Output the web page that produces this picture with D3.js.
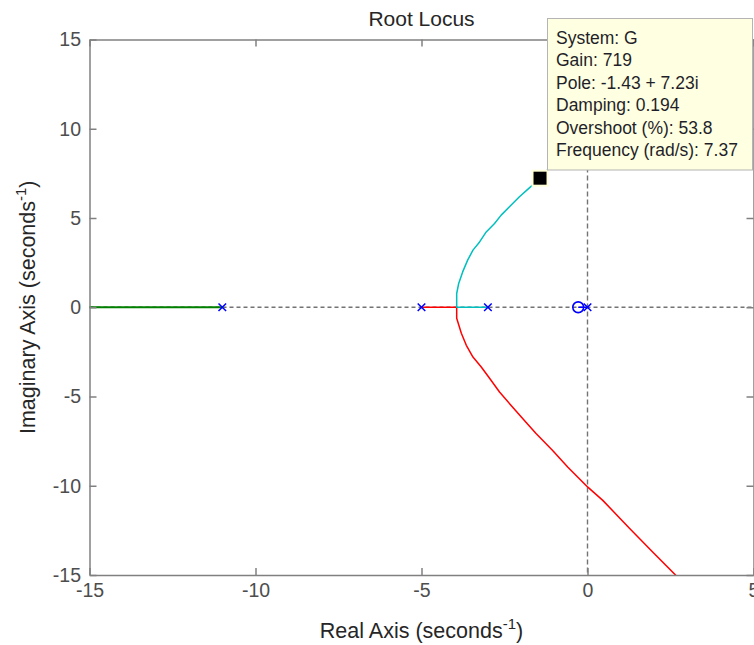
<!DOCTYPE html>
<html>
<head>
<meta charset="utf-8">
<script src="https://cdn.jsdelivr.net/npm/d3@7"></script>
<style>
  html, body { margin: 0; padding: 0; background: #fff; }
  svg { display: block; font-family: "Liberation Sans", Arial, sans-serif; }
</style>
</head>
<body>
<svg id="chart" width="754" height="645"></svg>
<script>
// Axis ticks
const xTicks = [-15, -10, -5, 0, 5];
const yTicks = [-15, -10, -5, 0, 5, 10, 15];

// Open-loop poles and zeros of G
const poles = [0, -3, -5, -11];
const zeros = [-0.28];

// Locus branches, [real, imag]
const blueBranch = [[0, 0], [-0.28, 0]];
const greenBranch = [[-11, 0], [-20, 0]];
const redBranch = [
  [-5, 0], [-3.94, 0], [-3.94, -0.62], [-3.80, -1.46], [-3.65, -2.13],
  [-3.45, -2.79], [-3.20, -3.35], [-2.95, -3.98], [-2.65, -4.75],
  [-2.30, -5.50], [-1.90, -6.34], [-1.55, -7.07], [-1.05, -8.02],
  [-0.59, -8.96], [0.01, -10.08], [0.46, -10.82], [1.27, -12.39],
  [1.97, -13.72], [2.72, -15.13]
];
const cyanBranch = [
  [-3, 0], [-3.94, 0], [-3.94, 0.77], [-3.88, 1.33], [-3.76, 1.98],
  [-3.61, 2.64], [-3.45, 3.20], [-3.25, 3.66], [-3.05, 4.22],
  [-2.80, 4.69], [-2.60, 5.16], [-2.35, 5.63], [-2.05, 6.19],
  [-1.75, 6.69], [-1.43, 7.23], [-1.05, 8.02], [-0.59, 8.96],
  [0.01, 10.08], [0.46, 10.82], [1.27, 12.39], [1.97, 13.72], [2.72, 15.13]
];

// Data tip
const tipPole = [-1.43, 7.23];
const tipLines = [
  "System: G",
  "Gain: 719",
  "Pole: -1.43 + 7.23i",
  "Damping: 0.194",
  "Overshoot (%): 53.8",
  "Frequency (rad/s): 7.37"
];

const svg = d3.select("#chart");
const plotLeft = 89.5, plotRight = 753.5, plotTop = 39.5, plotBottom = 575;

const x = d3.scaleLinear().domain([-15, 5]).range([plotLeft, plotRight]);
const y = d3.scaleLinear().domain([-15, 15]).range([plotBottom, plotTop]);

svg.append("defs").append("clipPath").attr("id", "plotClip")
  .append("rect").attr("x", plotLeft).attr("y", plotTop)
  .attr("width", plotRight - plotLeft).attr("height", plotBottom - plotTop);

const plot = svg.append("g").attr("clip-path", "url(#plotClip)");

// Dashed real and imaginary axes
plot.append("line")
  .attr("x1", plotLeft).attr("x2", plotRight).attr("y1", y(0)).attr("y2", y(0))
  .attr("stroke", "#737373").attr("stroke-width", 1.4).attr("stroke-dasharray", "4,3");
plot.append("line")
  .attr("x1", x(0)).attr("x2", x(0)).attr("y1", plotTop).attr("y2", plotBottom)
  .attr("stroke", "#737373").attr("stroke-width", 1.4).attr("stroke-dasharray", "5,3");

const line = d3.line().x(d => x(d[0])).y(d => y(d[1]));

const branches = [
  { data: blueBranch, color: "#0000ff", w: 1.5 },
  { data: greenBranch, color: "#008000", w: 2 },
  { data: redBranch, color: "#ff0000", w: 1.5 },
  { data: cyanBranch, color: "#00bfbf", w: 1.5 }
];
plot.selectAll("path.branch").data(branches).join("path")
  .attr("class", "branch")
  .attr("d", d => line(d.data))
  .attr("fill", "none")
  .attr("stroke", d => d.color)
  .attr("stroke-width", d => d.w)
  .attr("stroke-linejoin", "round");

// Pole markers (x)
const s = 3.8;
plot.selectAll("path.pole").data(poles).join("path")
  .attr("class", "pole")
  .attr("d", p => `M${x(p) - s},${y(0) - s}L${x(p) + s},${y(0) + s}M${x(p) - s},${y(0) + s}L${x(p) + s},${y(0) - s}`)
  .attr("stroke", "#0000ff").attr("stroke-width", 1.5).attr("fill", "none");

// Zero markers (o)
plot.selectAll("circle.zero").data(zeros).join("circle")
  .attr("class", "zero")
  .attr("cx", z => x(z)).attr("cy", y(0)).attr("r", 5.4)
  .attr("fill", "none").attr("stroke", "#0000ff").attr("stroke-width", 1.6);

// Axes frame with inward ticks
const axisColor = "#808080";
const tickColor = "#4d4d4d";
function styleAxis(g, showLabels) {
  g.select(".domain").attr("stroke", axisColor).attr("stroke-width", 1.5);
  g.selectAll(".tick line").attr("stroke", axisColor).attr("stroke-width", 1.5);
  g.selectAll(".tick text")
    .attr("fill", tickColor)
    .attr("font-size", "19.5px")
    .attr("font-family", "'Liberation Sans', Arial, sans-serif")
    .style("display", showLabels ? null : "none");
}
svg.append("g").attr("transform", `translate(0,${plotBottom})`)
  .call(d3.axisBottom(x).tickValues(xTicks).tickSizeInner(-7).tickSizeOuter(0).tickPadding(8).tickFormat(d3.format("d")))
  .call(g => styleAxis(g, true));
svg.append("g").attr("transform", `translate(0,${plotTop})`)
  .call(d3.axisTop(x).tickValues(xTicks).tickSizeInner(-7).tickSizeOuter(0))
  .call(g => styleAxis(g, false));
svg.append("g").attr("transform", `translate(${plotLeft},0)`)
  .call(d3.axisLeft(y).tickValues(yTicks).tickSizeInner(-7).tickSizeOuter(0).tickPadding(8.5).tickFormat(d3.format("d")))
  .call(g => styleAxis(g, true));
svg.append("g").attr("transform", `translate(${plotRight},0)`)
  .call(d3.axisRight(y).tickValues(yTicks).tickSizeInner(-7).tickSizeOuter(0))
  .call(g => styleAxis(g, false));
svg.selectAll(".tick text").text(function() { return this.textContent.replace("−", "-"); });

// Title and axis labels
const labelColor = "#262626";
svg.append("text")
  .attr("x", (plotLeft + plotRight) / 2).attr("y", 26)
  .attr("text-anchor", "middle").attr("font-size", "21px").attr("fill", labelColor)
  .text("Root Locus");

const xl = svg.append("text")
  .attr("x", (plotLeft + plotRight) / 2).attr("y", 638)
  .attr("text-anchor", "middle").attr("font-size", "21.5px").attr("fill", labelColor);
xl.append("tspan").text("Real Axis (seconds");
xl.append("tspan").attr("font-size", "15px").attr("dy", -9).text("-1");
xl.append("tspan").attr("dy", 9).text(")");

const yl = svg.append("text")
  .attr("transform", `translate(35,${(plotTop + plotBottom) / 2}) rotate(-90)`)
  .attr("text-anchor", "middle").attr("font-size", "21.5px").attr("fill", labelColor);
yl.append("tspan").text("Imaginary Axis (seconds");
yl.append("tspan").attr("font-size", "15px").attr("dy", -9).text("-1");
yl.append("tspan").attr("dy", 9).text(")");

// Data tip marker and box
svg.append("rect")
  .attr("x", x(tipPole[0]) - 7.5).attr("y", y(tipPole[1]) - 7.5)
  .attr("width", 15).attr("height", 15)
  .attr("fill", "#000").attr("stroke", "#ffffd8").attr("stroke-width", 2);

const tip = svg.append("g");
tip.append("rect")
  .attr("x", 547.5).attr("y", 18.5).attr("width", 205).attr("height", 151.5)
  .attr("fill", "#ffffe1").attr("stroke", "#b4b4b4").attr("stroke-width", 1);
tip.selectAll("text").data(tipLines).join("text")
  .attr("x", 556).attr("y", (d, i) => 44 + i * 22.4)
  .attr("font-size", "17.5px").attr("fill", "#1f1f2a")
  .text(d => d);
</script>
</body>
</html>
